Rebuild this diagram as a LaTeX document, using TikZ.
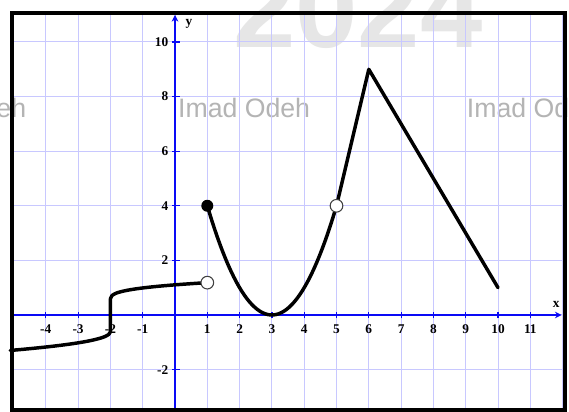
\documentclass[tikz,border=0pt]{standalone}
\usepackage{fontspec}
\setmainfont{Liberation Serif}
\newfontfamily\wmfont{Liberation Sans}
\usetikzlibrary{arrows.meta}
\definecolor{gpGrid}{HTML}{C8C8FF}
\definecolor{gpAxis}{HTML}{0A0AF5}
\definecolor{gpMark}{HTML}{B4B4B4}
\definecolor{gpFaint}{HTML}{E6E6E6}

\tikzset{
  gridline/.style={draw=gpGrid, line width=0.75pt},
  axisline/.style={draw=gpAxis, line width=1.5pt},
  tickmark/.style={draw=gpAxis, line width=0.9pt},
  ticklabel/.style={font=\fontsize{10}{10}\selectfont\bfseries, inner sep=0pt},
  graphline/.style={line width=2.6pt, line cap=round, line join=round},
  opendot/.style={circle, draw=black!75, fill=white, line width=0.8pt, minimum size=9.5pt, inner sep=0pt},
  solidot/.style={circle, fill=black, minimum size=9pt, inner sep=0pt},
  watermark/.style={text=gpMark, font=\wmfont\fontsize{20}{20}\selectfont, inner sep=0pt, anchor=base west}
}

\begin{document}
\begin{tikzpicture}[x=24.225pt, y=20.475pt]
    \clip (-5.418,-3.553) rectangle (12.198,11.538);
    \fill[white] (-5.418,-3.553) rectangle (12.198,11.538);
    % watermark
    \node[text=gpFaint, font=\wmfont\bfseries\fontsize{84}{84}\selectfont, inner sep=0pt, anchor=base west] (year) at (1.8,9.78) {2024};
    \foreach \wx/\wn in {-8.7/wmA, 0.09/wmB, 9.03/wmC}
        \node[watermark] (\wn) at (\wx,7.25) {Imad Odeh};
    % grid
    \begin{scope}
        \clip (-5.046,-3.48) rectangle (12.074,11.07);
        \foreach \gx in {-5,...,12} \draw[gridline] (\gx,-3.6) -- (\gx,11.6);
        \foreach \gy in {-2,0,...,10} \draw[gridline] (-5.5,\gy) -- (12.3,\gy);
    \end{scope}
    % axes
    \coordinate (xstart) at (-5.1,0);
    \coordinate (xend) at (11.97,0);
    \coordinate (ystart) at (0,-3.6);
    \coordinate (yend) at (0,10.99);
    \draw[axisline, -{Stealth[length=5pt,width=5pt]}] (xstart) -- (xend);
    \draw[axisline, -{Stealth[length=5pt,width=5pt]}] (ystart) -- (yend);
    \foreach \k in {-4,...,11} \draw[tickmark] (\k,-0.12) -- (\k,0.12);
    \foreach \k in {-2,2,4,6,8,10} \draw[tickmark] (-0.09,\k) -- (0.15,\k);
    \foreach \k in {-4,...,-1,1,2,...,11}
        \node[ticklabel] (xl\k) at (\k,-0.52) {\k};
    \foreach \k in {-2,2,4,6,8,10}
        \node[ticklabel, anchor=east] (yl\k) at (-0.2,\k) {\k};
    \node[ticklabel] (ylab) at (0.43,10.66) {y};
    \node[ticklabel] (xlab) at (11.8,0.4) {x};
    % points of the graph
    \coordinate (openA) at (1,1.185);
    \coordinate (fillA) at (1,4);
    \coordinate (openB) at (5,4);
    \coordinate (peak) at (6,9);
    \coordinate (tail) at (10,1);
    % graph
    \draw[graphline] plot[smooth, samples=60, domain=3.1:0.001, variable=\t] ({-2-\t},{-0.6-0.42*\t^0.45})
        -- plot[smooth, samples=60, domain=0.001:3, variable=\t] ({-2+\t},{0.55+0.44*\t^(1/3)});
    \draw[graphline] plot[smooth, samples=50, domain=1:5] (\x,{(\x-3)^2});
    \draw[graphline] (openB) -- (peak) -- (tail);
    \node[solidot] (dotA) at (fillA) {};
    \node[opendot] (ringA) at (openA) {};
    \node[opendot] (ringB) at (openB) {};
    % frame
    \draw[line width=3.4pt] (-5.046,-3.48) rectangle (12.074,11.07);
\end{tikzpicture}
\end{document}
